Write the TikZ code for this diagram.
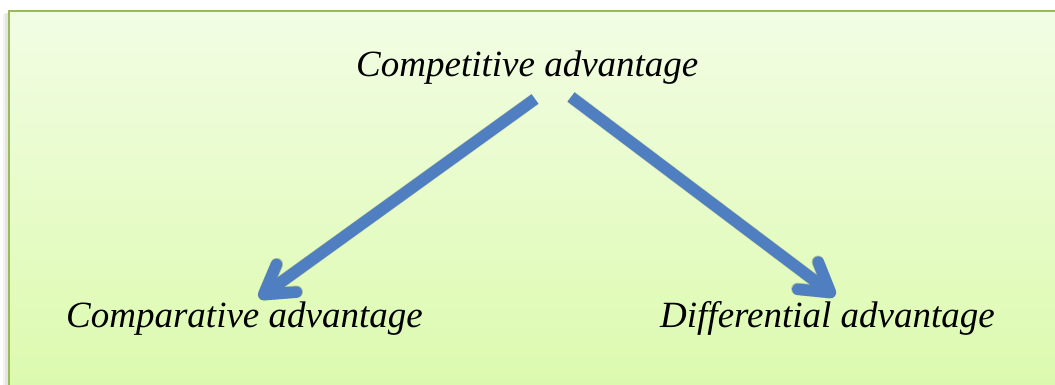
\documentclass[tikz,border=0pt]{standalone}
\usepackage{fontspec}
\setmainfont{Liberation Serif}
\usetikzlibrary{arrows.meta}
\definecolor{boxline}{HTML}{9BBB59}
\definecolor{boxtop}{HTML}{F2FDE4}
\definecolor{boxbot}{HTML}{DCFAAE}
\definecolor{arrowblue}{HTML}{4F7FC0}
\tikzset{
  tipstyle/.style={-{Straight Barb[length=28pt, width=34pt, line cap=round, line join=round]}},
  lbl/.style={inner sep=0pt, anchor=base west, font=\fontsize{37}{40}\selectfont\itshape},
  bigarrow/.style={draw=arrowblue, line width=11.5pt, tipstyle},
  arrowshadow/.style={draw=black, opacity=0.10, line width=12.5pt, tipstyle},
}
\begin{document}
\begin{tikzpicture}[x=1pt, y=-1pt]
\useasboundingbox (0,0) rectangle (1055,385);
% shadow of box
\fill[black!10] (5,13) rectangle (10,386);
\fill[black!5] (3,14) rectangle (5,386);
% box
\shade[top color=boxtop, bottom color=boxbot] (9,11) rectangle (1056,386);
\draw[boxline, line width=2.2pt] (9,390) -- (9,11) -- (1060,11);
% text nodes
\node[lbl] (top) at (356,77) {Competitive advantage};
\node[lbl] (left) at (66,327) {Comparative advantage};
\node[lbl] (right) at (660,327) {Differential advantage};
% anchor coordinates for the arrows
\coordinate (s1) at (535,99);
\coordinate (e1) at (259,298);
\coordinate (s2) at (571,97);
\coordinate (e2) at (835,296);
% arrow shadows
\draw[arrowshadow, shift={(2pt,3pt)}] (s1) -- (e1);
\draw[arrowshadow, shift={(2pt,3pt)}] (s2) -- (e2);
\draw[arrowshadow, shift={(3pt,4.5pt)}] (s1) -- (e1);
\draw[arrowshadow, shift={(3pt,4.5pt)}] (s2) -- (e2);
% arrows
\draw[bigarrow] (s1) -- (e1);
\draw[bigarrow] (s2) -- (e2);
\end{tikzpicture}
\end{document}
